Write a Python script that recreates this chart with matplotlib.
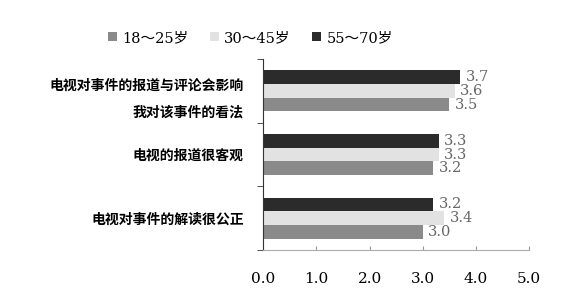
import numpy as np
import matplotlib
matplotlib.use("Agg")
import matplotlib.pyplot as plt
from matplotlib.ticker import FixedLocator

plt.rcParams["font.family"] = ["Noto Sans CJK SC", "DejaVu Sans"]

# bottom to top, as drawn by barh
categories = [
    "电视对事件的解读很公正",
    "电视的报道很客观",
    "电视对事件的报道与评论会影响\n我对该事件的看法",
]
groups = ["18～25岁", "30～45岁", "55～70岁"]
age_18_25 = [3.0, 3.2, 3.5]
age_30_45 = [3.4, 3.3, 3.6]
age_55_70 = [3.2, 3.3, 3.7]
xticks = [0.0, 1.0, 2.0, 3.0, 4.0, 5.0]

colors = ["#8a8a8a", "#e2e2e2", "#2b2b2b"]
series = [age_18_25, age_30_45, age_55_70]

fig = plt.figure(figsize=(5.66, 2.98), dpi=100)
ax = fig.add_axes([0.465, 0.161, 0.47, 0.641])

y = np.arange(len(categories))
h = 0.215
offsets = [-h, 0, h]
handles = []
for vals, off, col, lab in zip(series, offsets, colors, groups):
    bars = ax.barh(y + off, vals, height=h, color=col, edgecolor="none", label=lab)
    handles.append(bars)
    for b, v in zip(bars, vals):
        ax.annotate(f"{v:.1f}", (v, b.get_y() + b.get_height() / 2),
                    xytext=(4, 0), textcoords="offset points",
                    ha="left", va="center", fontsize=10.5,
                    family="DejaVu Serif", color="#666666")

ax.set_xlim(0, 5)
ax.set_ylim(-0.5, 2.5)
ax.set_xticks(xticks)
ax.set_xticklabels([f"{t:.1f}" for t in xticks], family="DejaVu Serif", fontsize=11)
ax.tick_params(axis="x", direction="in", length=3, color="#999999", pad=16)

ax.set_yticks(y)
ax.set_yticklabels(categories, fontsize=10, fontweight="bold", linespacing=2.2)
ax.tick_params(axis="y", which="major", length=0, pad=14)
ax.yaxis.set_minor_locator(FixedLocator([-0.5, 0.5, 1.5, 2.5]))
ax.tick_params(axis="y", which="minor", length=4, color="#333333")

for s in ["top", "right"]:
    ax.spines[s].set_visible(False)
ax.spines["left"].set_color("#333333")
ax.spines["bottom"].set_color("#aaaaaa")

fig.legend(handles=handles, labels=groups, loc="center left",
           bbox_to_anchor=(0.168, 0.873), ncol=3, frameon=False,
           handlelength=0.6, handleheight=0.6, handletextpad=0.35,
           columnspacing=1.5,
           prop={"family": ["DejaVu Serif", "Noto Sans CJK SC"], "size": 10.5})

fig.savefig("out.png", dpi=100)
